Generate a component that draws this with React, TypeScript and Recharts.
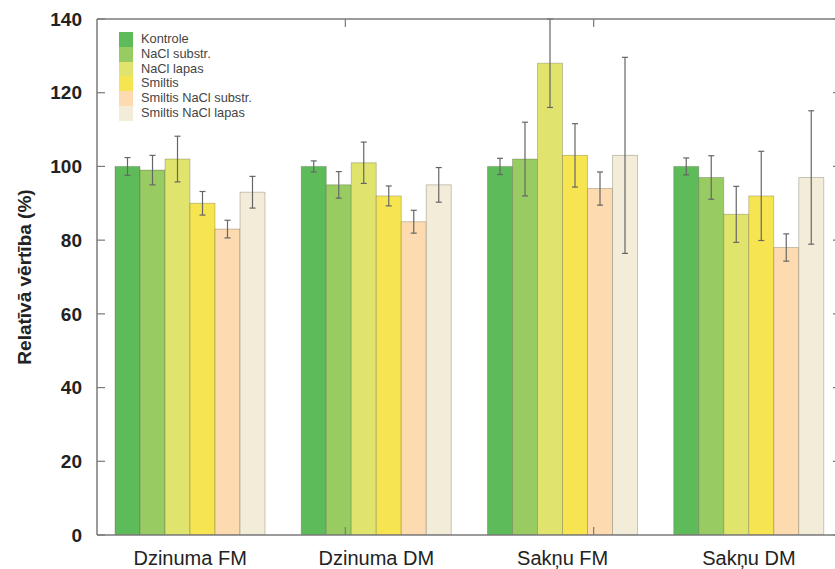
import { BarChart, Bar, XAxis, YAxis, ErrorBar, Legend } from "recharts"

const categories = ["Dzinuma FM", "Dzinuma DM", "Sakņu FM", "Sakņu DM"]

const kontrole = [100, 100, 100, 100]
const kontroleErr = [2.4, 1.5, 2.2, 2.3]
const naclSubstr = [99, 95, 102, 97]
const naclSubstrErr = [4, 3.6, 10, 5.9]
const naclLapas = [102, 101, 128, 87]
const naclLapasErr = [6.2, 5.6, 12, 7.6]
const smiltis = [90, 92, 103, 92]
const smiltisErr = [3.2, 2.7, 8.6, 12.1]
const smiltisNaclSubstr = [83, 85, 94, 78]
const smiltisNaclSubstrErr = [2.4, 3.1, 4.5, 3.7]
const smiltisNaclLapas = [93, 95, 103, 97]
const smiltisNaclLapasErr = [4.3, 4.7, 26.6, 18.1]

const yTicks = [0, 20, 40, 60, 80, 100, 120, 140]
// boundaries between the groups, on a 0..4 helper scale
const groupEdges = [1, 2, 3]

const series = [
  { key: "kontrole", name: "Kontrole", color: "#5dbb5a", values: kontrole, errors: kontroleErr },
  { key: "naclSubstr", name: "NaCl substr.", color: "#98cc63", values: naclSubstr, errors: naclSubstrErr },
  { key: "naclLapas", name: "NaCl lapas", color: "#e0e46c", values: naclLapas, errors: naclLapasErr },
  { key: "smiltis", name: "Smiltis", color: "#f6e550", values: smiltis, errors: smiltisErr },
  { key: "smiltisNaclSubstr", name: "Smiltis NaCl substr.", color: "#fddab0", values: smiltisNaclSubstr, errors: smiltisNaclSubstrErr },
  { key: "smiltisNaclLapas", name: "Smiltis NaCl lapas", color: "#f3ecd9", values: smiltisNaclLapas, errors: smiltisNaclLapasErr },
]

const data = categories.map((name, i) => {
  const row: Record<string, string | number> = { name }
  series.forEach((s) => {
    row[s.key] = s.values[i]
    row[`${s.key}Err`] = s.errors[i]
  })
  return row
})

const FONT = "'Liberation Sans', Arial, Helvetica, sans-serif"
const AXIS = "#7a7a7a"

// frame axes only carry inward tick marks, no labels
const noLabel = () => <g />

function LegendBox() {
  return (
    <div style={{ fontFamily: FONT, fontSize: 12.8, color: "#444", lineHeight: "14.8px" }}>
      {series.map((s) => (
        <div key={s.key} style={{ display: "flex", alignItems: "center", height: 14.8 }}>
          <span style={{ width: 14, height: 14.8, background: s.color, display: "inline-block" }} />
          <span style={{ marginLeft: 8, whiteSpace: "nowrap" }}>{s.name}</span>
        </div>
      ))}
    </div>
  )
}

export default function App() {
  return (
    <div
      style={{
        position: "absolute",
        left: 0,
        top: 0,
        width: 835,
        height: 569,
        overflow: "hidden",
        background: "#fff",
        fontFamily: FONT,
      }}
    >
      <BarChart
        width={860}
        height={569}
        data={data}
        margin={{ top: 19, right: 18, bottom: 0, left: 37 }}
        barCategoryGap={18}
        barGap={0}
      >
        <XAxis
          dataKey="name"
          height={34}
          axisLine={{ stroke: AXIS, strokeWidth: 1.5 }}
          tickLine={false}
          tickSize={0}
          tickMargin={16}
          tick={{ fontSize: 20, fill: "#222", fontFamily: FONT }}
        />
        <XAxis
          xAxisId="edgesBottom"
          type="number"
          domain={[0, 4]}
          allowDataOverflow
          ticks={groupEdges}
          interval={0}
          orientation="bottom"
          mirror
          height={1}
          tick={noLabel}
          tickSize={8}
          axisLine={false}
          tickLine={{ stroke: AXIS, strokeWidth: 1.2 }}
        />
        <XAxis
          xAxisId="edgesTop"
          type="number"
          domain={[0, 4]}
          allowDataOverflow
          ticks={groupEdges}
          interval={0}
          orientation="top"
          mirror
          height={1}
          tick={noLabel}
          tickSize={8}
          axisLine={{ stroke: AXIS, strokeWidth: 1.5 }}
          tickLine={{ stroke: AXIS, strokeWidth: 1.2 }}
        />
        <YAxis
          width={60}
          domain={[0, 140]}
          ticks={yTicks}
          allowDataOverflow
          axisLine={{ stroke: AXIS, strokeWidth: 1.5 }}
          tickLine={false}
          tickSize={0}
          tickMargin={15}
          tick={{ fontSize: 19, fontWeight: "bold", fill: "#222", fontFamily: FONT }}
          label={{
            value: "Relatīvā vērtība (%)",
            angle: -90,
            position: "insideLeft",
            offset: -13,
            textAnchor: "middle",
            fontSize: 19,
            fontWeight: "bold",
            fill: "#222",
            fontFamily: FONT,
          }}
        />
        <YAxis
          yAxisId="innerLeft"
          domain={[0, 140]}
          allowDataOverflow
          ticks={yTicks}
          interval={0}
          mirror
          width={1}
          tick={noLabel}
          tickSize={8}
          axisLine={false}
          tickLine={{ stroke: AXIS, strokeWidth: 1.2 }}
        />
        <YAxis
          yAxisId="innerRight"
          orientation="right"
          domain={[0, 140]}
          allowDataOverflow
          ticks={yTicks}
          interval={0}
          mirror
          width={1}
          tick={noLabel}
          tickSize={9}
          axisLine={{ stroke: AXIS, strokeWidth: 1.5 }}
          tickLine={{ stroke: AXIS, strokeWidth: 1.2 }}
        />
        <Legend
          layout="vertical"
          align="center"
          verticalAlign="middle"
          content={() => <LegendBox />}
          wrapperStyle={{ left: 119, top: 32, width: "auto", height: "auto" }}
        />
        {series.map((s) => (
          <Bar
            key={s.key}
            dataKey={s.key}
            name={s.name}
            fill={s.color}
            stroke="rgba(80,80,60,0.3)"
            strokeWidth={1}
            isAnimationActive={false}
          >
            <ErrorBar dataKey={`${s.key}Err`} width={3} stroke="#666" strokeWidth={1.2} />
          </Bar>
        ))}
      </BarChart>
    </div>
  )
}
